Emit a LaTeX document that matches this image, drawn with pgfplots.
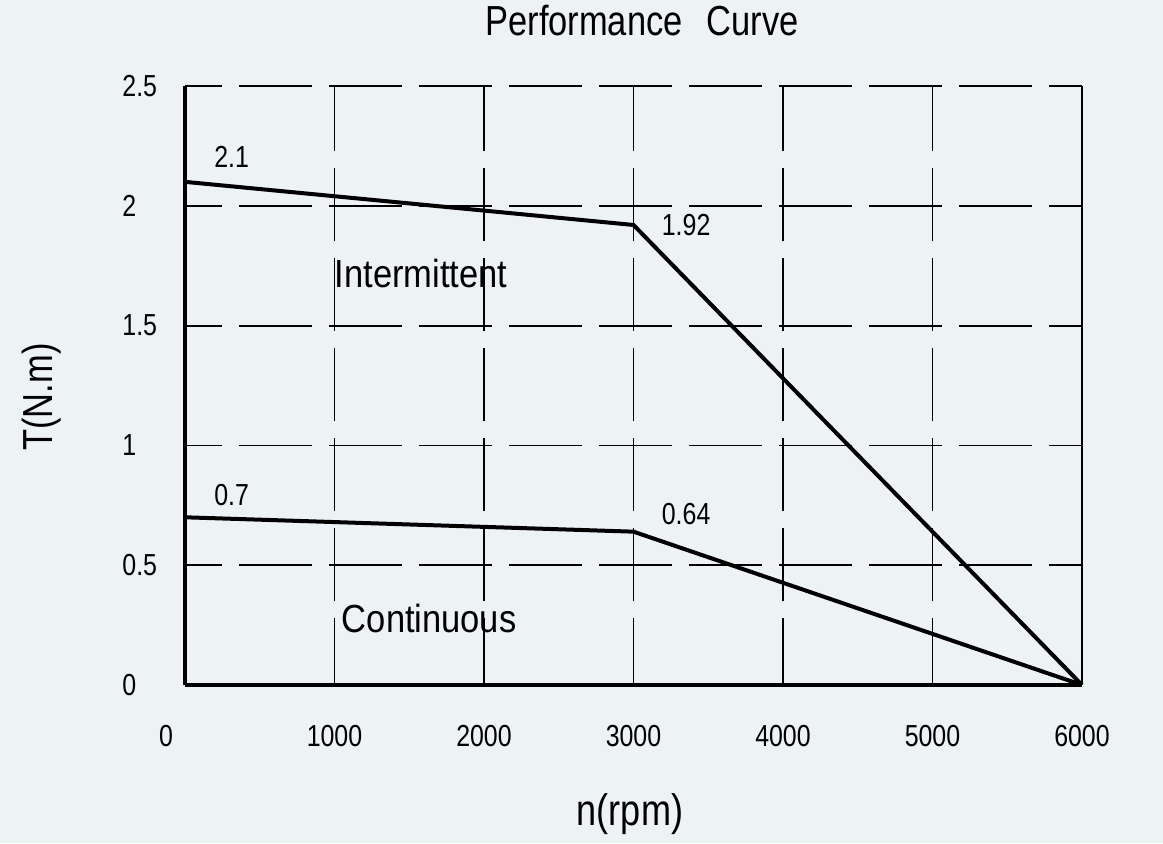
\documentclass[border=0pt]{standalone}
\usepackage{fontspec}
\setmainfont{Liberation Sans}[FakeStretch=0.82]
\newfontfamily\widefont{Liberation Sans}[FakeStretch=0.88]
\usepackage{pgfplots}
\pgfplotsset{compat=1.18}
\definecolor{bg}{RGB}{237,242,245}
\newcommand{\tickfont}{\fontsize{15.2}{18}\selectfont}
\begin{document}
\begin{tikzpicture}[x=1pt,y=1pt]
\fill[bg] (-92.5,-79) rectangle (489,342.5);
\begin{axis}[
  at={(0,0)}, anchor=south west,
  scale only axis, width=448.5pt, height=299.5pt,
  xmin=0, xmax=6000, ymin=0, ymax=2.5,
  clip=false,
  separate axis lines,
  axis x line*=bottom, axis y line*=left,
  axis line style={line width=2pt, -},
  xtick={0,1000,2000,3000,4000,5000,6000},
  xticklabels={,1000,2000,3000,4000,5000,6000},
  ytick={0,0.5,1,1.5,2,2.5},
  yticklabels={0,0.5,1,1.5,2,2.5},
  major tick length=0pt,
  /pgf/number format/assume math mode=true,
  xticklabel style={anchor=north, inner sep=0pt, yshift=-20pt, font=\tickfont},
  yticklabel style={anchor=west, inner sep=0pt, xshift=-31.5pt, font=\tickfont},
  xmajorgrids, ymajorgrids,
  x grid style={black, line width=0.9pt, dash pattern=on 36.5pt off 8.5pt, dash phase=3pt},
  y grid style={black, line width=0.9pt, dash pattern=on 36.5pt off 8.5pt, dash phase=18pt},
]
\addplot[black, line width=2pt] coordinates {(0,2.1) (3000,1.92) (6000,0)};
\addplot[black, line width=2pt] coordinates {(0,0.7) (3000,0.64) (6000,0)};
\draw[black, line width=1pt] (rel axis cs:1,0) -- (rel axis cs:1,1);
\node[anchor=north, inner sep=0pt, font=\tickfont, xshift=-9.5pt, yshift=-20pt] at (axis cs:0,0) {0};
\node[anchor=base west, inner sep=0pt, font=\tickfont] at (axis cs:193,2.158) {2.1};
\node[anchor=base west, inner sep=0pt, font=\tickfont] at (axis cs:3187,1.878) {1.92};
\node[anchor=base west, inner sep=0pt, font=\tickfont] at (axis cs:193,0.751) {0.7};
\node[anchor=base west, inner sep=0pt, font=\tickfont] at (axis cs:3187,0.668) {0.64};
\node[anchor=base west, inner sep=0pt, font=\widefont\fontsize{19.6}{22}\selectfont] at (axis cs:1000,1.661) {Intermittent};
\node[anchor=base west, inner sep=0pt, font=\widefont\fontsize{19.6}{22}\selectfont] at (axis cs:1047,0.221) {Continuous};
\node[anchor=base, inner sep=0pt, font=\fontsize{21}{24}\selectfont, xshift=4.25pt, yshift=25.5pt] at (rel axis cs:0.5,1) {Performance\hspace{12pt}Curve};
\node[anchor=base, inner sep=0pt, font=\fontsize{22}{25}\selectfont, xshift=-1.75pt, yshift=-70pt] at (rel axis cs:0.5,0) {n(rpm)};
\node[anchor=base, rotate=90, inner sep=0pt, font=\fontsize{21}{24}\selectfont, xshift=-5.75pt, yshift=66pt] at (rel axis cs:0,0.5) {T(N.m)};
\end{axis}
\end{tikzpicture}
\end{document}
